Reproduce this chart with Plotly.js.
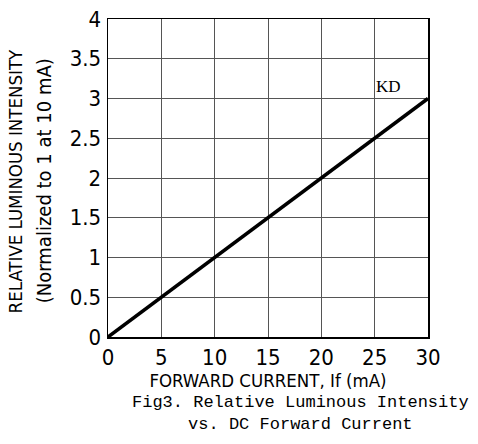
<!DOCTYPE html>
<html>
<head>
<meta charset="utf-8">
<script src="https://cdn.plot.ly/plotly-3.0.1.min.js"></script>
<style>html,body{margin:0;padding:0;background:#fff;}#chart{width:478px;height:444px;}</style>
</head>
<body>
<div id="chart"></div>
<script>
const currentMA = [0, 5, 10, 15, 20, 25, 30];
const relIntensity = [0, 0.5, 1.0, 1.5, 2.0, 2.5, 3.0];
const xTicks = [0, 5, 10, 15, 20, 25, 30];
const yTicks = [0, 0.5, 1, 1.5, 2, 2.5, 3, 3.5, 4];
const yTickText = ['0', '0.5', '1', '1.5', '2', '2.5', '3', '3.5', '4'];
const seriesName = 'KD';

const sansFont = '"Liberation Sans Narrow", "DejaVu Sans Condensed", "DejaVu Sans", sans-serif';

const trace = {
  x: currentMA, y: relIntensity, mode: 'lines', type: 'scatter',
  line: {color: '#000', width: 3.5}, showlegend: false, hoverinfo: 'skip'
};

const layout = {
  width: 478, height: 444,
  margin: {l: 108, r: 50, t: 19, b: 107},
  paper_bgcolor: '#fff', plot_bgcolor: '#fff',
  xaxis: {
    range: [0, 30], tickvals: xTicks, ticks: '', showgrid: true,
    gridcolor: '#555', gridwidth: 1, zeroline: false,
    showline: true, linecolor: '#000', linewidth: 1.5, mirror: true,
    tickfont: {family: sansFont, size: 22, color: '#000'},
    title: {text: 'FORWARD CURRENT, If (mA)', font: {family: sansFont, size: 18.5, color: '#000'}, standoff: 2},
    fixedrange: true
  },
  yaxis: {
    range: [0, 4], tickvals: yTicks, ticktext: yTickText, ticks: '', showgrid: true,
    gridcolor: '#555', gridwidth: 1, zeroline: false,
    showline: true, linecolor: '#000', linewidth: 1.5, mirror: true,
    tickfont: {family: sansFont, size: 22, color: '#000'},
    ticklabelstandoff: 1,
    fixedrange: true
  },
  annotations: [
    {text: seriesName, x: 26.3, y: 3.15, xref: 'x', yref: 'y', showarrow: false,
     font: {family: '"Liberation Serif", serif', size: 17, color: '#000'}},
    {text: 'RELATIVE LUMINOUS INTENSITY', xref: 'paper', yref: 'paper', x: -0.29, y: 0.49,
     xanchor: 'center', yanchor: 'middle', textangle: -90, showarrow: false,
     font: {family: sansFont, size: 18.5, color: '#000'}},
    {text: '(Normalized to 1 at 10 mA)', xref: 'paper', yref: 'paper', x: -0.2, y: 0.49,
     xanchor: 'center', yanchor: 'middle', textangle: -90, showarrow: false,
     font: {family: sansFont, size: 20, color: '#000'}},
    {text: 'Fig3. Relative Luminous Intensity<br>vs. DC Forward Current', xref: 'paper', yref: 'paper',
     x: 0.6, y: -0.17, xanchor: 'center', yanchor: 'top', showarrow: false, align: 'center',
     font: {family: '"Liberation Mono", monospace', size: 17, color: '#000'}}
  ]
};

Plotly.newPlot('chart', [trace], layout, {displayModeBar: false, staticPlot: true});
</script>
</body>
</html>
